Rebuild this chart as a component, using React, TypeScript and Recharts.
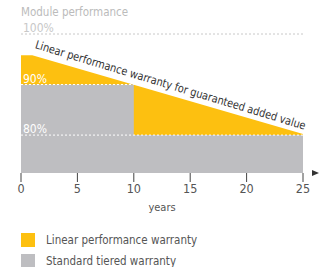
import React from 'react';
import { ComposedChart, Area, XAxis, YAxis, ReferenceLine } from 'recharts';

const years = [0, 1, 10, 25];
const linearWarranty = [95.8, 95.8, null, 80.2];
const tieredWarranty = [90, 90, 80, 80];
const yearTicks = [0, 5, 10, 15, 20, 25];

const data = years.map((year, i) => ({
  year,
  linear: linearWarranty[i],
  tiered: tieredWarranty[i],
}));

const YELLOW = '#FDC010';
const GRAY = '#BEBEC1';
const FONT = '"DejaVu Sans Condensed", "DejaVu Sans", sans-serif';

const legendItems = [
  { color: YELLOW, label: 'Linear performance warranty' },
  { color: GRAY, label: 'Standard tiered warranty' },
];

const SlopeLabel = ({ viewBox }: any) => {
  if (!viewBox) return null;
  const cx = viewBox.x + viewBox.width / 2;
  const cy = viewBox.y + viewBox.height / 2;
  const angle = (Math.atan2(viewBox.height, viewBox.width) * 180) / Math.PI + 0.6;
  return (
    <text
      x={cx}
      y={cy}
      dx={0}
      dy={-6}
      transform={`rotate(${angle}, ${cx}, ${cy})`}
      textAnchor="middle"
      fill="#333"
      fontSize={11.5}
      fontFamily={FONT}
      textLength={282}
      lengthAdjust="spacingAndGlyphs"
    >
      Linear performance warranty for guaranteed added value
    </text>
  );
};

const AxisExtras = ({ viewBox }: any) => {
  if (!viewBox) return null;
  const { x, y, width } = viewBox;
  return (
    <g>
      <polygon points={`${x + width + 9},${y - 3} ${x + width + 16},${y} ${x + width + 9},${y + 3}`} fill="#333" />
      <text x={x + width / 2} y={y + 38} textAnchor="middle" fill="#555" fontSize={11} fontFamily={FONT}>
        years
      </text>
    </g>
  );
};

const pctLabel = (value: string, fill: string) => ({
  value,
  position: 'insideBottomLeft' as const,
  offset: 2,
  fill,
  fontSize: 12,
  fontFamily: FONT,
});

const App = () => {
  return (
    <div style={{ position: 'absolute', left: 0, top: 0, width: 326, height: 267, background: '#fff', overflow: 'hidden' }}>
      <div style={{ position: 'absolute', left: 21, top: 5, fontFamily: FONT, fontSize: 11.5, color: '#bbb' }}>
        Module performance
      </div>
      <ComposedChart width={326} height={267} data={data} margin={{ top: 34, right: 23, left: 21, bottom: 54 }}>
        <XAxis
          dataKey="year"
          type="number"
          domain={[0, 25]}
          ticks={yearTicks}
          axisLine={false}
          tickLine={{ stroke: '#444' }}
          tickSize={9}
          tickMargin={2}
          tick={{ fill: '#555', fontSize: 12.5, fontFamily: FONT }}
          height={40}
          label={<AxisExtras />}
        />
        <YAxis hide domain={[72.5, 100]} type="number" allowDataOverflow />
        <Area
          dataKey="linear"
          type="linear"
          fill={YELLOW}
          fillOpacity={1}
          stroke="none"
          connectNulls
          isAnimationActive={false}
        />
        <Area
          dataKey="tiered"
          type="stepAfter"
          fill={GRAY}
          fillOpacity={1}
          stroke="none"
          isAnimationActive={false}
        />
        <ReferenceLine y={100} stroke="#c8c8c8" strokeDasharray="2 2" label={pctLabel('100%', '#c8c8c8')} />
        <ReferenceLine
          segment={[{ x: 0, y: 90 }, { x: 10, y: 90 }]}
          stroke="#fff"
          strokeDasharray="2 2"
          label={pctLabel('90%', '#fff')}
        />
        <ReferenceLine y={80} stroke="#fff" strokeDasharray="2 2" label={pctLabel('80%', '#fff')} />
        <ReferenceLine
          segment={[{ x: 1, y: 95.8 }, { x: 25, y: 80.2 }]}
          stroke="none"
          label={<SlopeLabel />}
        />
      </ComposedChart>
      <div style={{ position: 'absolute', left: 21, top: 233, fontFamily: FONT, fontSize: 11.5, color: '#555' }}>
        {legendItems.map((item) => (
          <div key={item.label} style={{ display: 'flex', alignItems: 'center', height: 14, marginBottom: 7 }}>
            <span style={{ width: 14, height: 14, background: item.color, display: 'inline-block', marginRight: 11 }} />
            <span>{item.label}</span>
          </div>
        ))}
      </div>
    </div>
  );
};

export default App;
